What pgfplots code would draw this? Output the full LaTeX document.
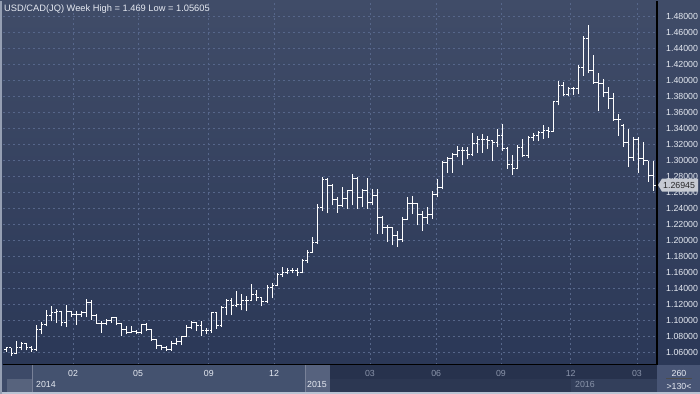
\documentclass[border=0pt]{standalone}
\usepackage{fontspec}
\setmainfont{Liberation Sans}
\usepackage{pgfplots}
\pgfplotsset{compat=1.18}
\usepackage{pgfplotstable}
\definecolor{bgtop}{HTML}{404C68}
\definecolor{bgbot}{HTML}{2B3857}
\definecolor{gridc}{HTML}{56668A}
\definecolor{labc}{HTML}{E6EAF2}
\definecolor{greyc}{HTML}{8A94AA}
\definecolor{stripA}{HTML}{3D4A68}
\definecolor{stripB}{HTML}{44526F}
\definecolor{stripC}{HTML}{56627E}
\definecolor{stripD}{HTML}{27324D}
\definecolor{stripE}{HTML}{2C3752}
\definecolor{stripF}{HTML}{333F5B}
\definecolor{boxc}{HTML}{485575}
\definecolor{edgec}{HTML}{B9C3D3}
\definecolor{pricec}{HTML}{C6CAD2}

\pgfplotstableread{
x o h l c
0 1.064 1.067 1.061 1.066
1 1.066 1.066 1.056 1.059
2 1.059 1.074 1.058 1.066
3 1.066 1.073 1.063 1.071
4 1.071 1.072 1.063 1.066
5 1.066 1.068 1.061 1.064
6 1.064 1.095 1.062 1.089
7 1.089 1.098 1.083 1.095
8 1.095 1.113 1.093 1.107
9 1.107 1.118 1.099 1.110
10 1.110 1.114 1.097 1.112
11 1.112 1.112 1.093 1.098
12 1.098 1.120 1.092 1.111
13 1.111 1.112 1.105 1.108
14 1.108 1.112 1.095 1.108
15 1.108 1.112 1.105 1.110
16 1.110 1.127 1.104 1.123
17 1.123 1.126 1.101 1.107
18 1.107 1.108 1.096 1.097
19 1.097 1.100 1.085 1.097
20 1.097 1.102 1.094 1.100
21 1.100 1.105 1.097 1.104
22 1.104 1.105 1.094 1.096
23 1.096 1.097 1.081 1.089
24 1.089 1.093 1.083 1.085
25 1.085 1.093 1.084 1.086
26 1.086 1.088 1.083 1.085
27 1.085 1.096 1.083 1.095
28 1.095 1.097 1.087 1.089
29 1.089 1.090 1.075 1.076
30 1.076 1.076 1.065 1.069
31 1.069 1.070 1.063 1.066
32 1.066 1.068 1.062 1.064
33 1.064 1.074 1.062 1.072
34 1.072 1.078 1.070 1.074
35 1.074 1.081 1.070 1.080
36 1.080 1.094 1.079 1.092
37 1.092 1.099 1.089 1.098
38 1.098 1.098 1.087 1.094
39 1.094 1.100 1.081 1.0875
40 1.0875 1.091 1.083 1.0875
41 1.0875 1.111 1.085 1.110
42 1.110 1.111 1.090 1.094
43 1.094 1.118 1.092 1.116
44 1.116 1.127 1.107 1.125
45 1.125 1.128 1.107 1.119
46 1.119 1.137 1.117 1.120
47 1.120 1.133 1.113 1.125
48 1.125 1.131 1.112 1.125
49 1.125 1.146 1.124 1.1325
50 1.1325 1.138 1.124 1.129
51 1.129 1.130 1.118 1.124
52 1.124 1.145 1.122 1.1417
53 1.1417 1.147 1.128 1.1437
54 1.1437 1.159 1.143 1.158
55 1.158 1.167 1.155 1.160
56 1.160 1.166 1.158 1.1625
57 1.1625 1.166 1.159 1.1625
58 1.1625 1.166 1.156 1.160
59 1.160 1.177 1.159 1.175
60 1.175 1.188 1.172 1.1855
61 1.1855 1.205 1.185 1.198
62 1.198 1.246 1.196 1.241
63 1.241 1.280 1.237 1.277
64 1.277 1.278 1.234 1.269
65 1.269 1.271 1.244 1.252
66 1.252 1.254 1.235 1.244
67 1.244 1.267 1.242 1.253
68 1.253 1.2625 1.240 1.2625
69 1.2625 1.283 1.244 1.278
70 1.278 1.279 1.240 1.254
71 1.254 1.265 1.242 1.2625
72 1.2625 1.278 1.240 1.248
73 1.248 1.265 1.244 1.256
74 1.256 1.265 1.208 1.229
75 1.229 1.231 1.208 1.217
76 1.217 1.219 1.198 1.216
77 1.216 1.217 1.194 1.206
78 1.206 1.212 1.192 1.202
79 1.202 1.229 1.198 1.227
80 1.227 1.254 1.227 1.246
81 1.246 1.256 1.233 1.246
82 1.246 1.246 1.219 1.233
83 1.233 1.237 1.212 1.229
84 1.229 1.242 1.221 1.233
85 1.233 1.2625 1.227 1.2575
86 1.2575 1.277 1.254 1.267
87 1.267 1.300 1.264 1.298
88 1.298 1.304 1.285 1.303
89 1.303 1.310 1.285 1.308
90 1.308 1.318 1.304 1.313
91 1.313 1.317 1.294 1.3125
92 1.3125 1.317 1.302 1.308
93 1.308 1.334 1.306 1.321
94 1.321 1.331 1.310 1.326
95 1.326 1.333 1.310 1.327
96 1.327 1.331 1.315 1.325
97 1.325 1.325 1.300 1.323
98 1.323 1.3396 1.317 1.332
99 1.332 1.346 1.3125 1.3146
100 1.3146 1.3167 1.2896 1.2946
101 1.2946 1.307 1.282 1.290
102 1.290 1.319 1.289 1.3167
103 1.3167 1.327 1.304 1.306
104 1.306 1.331 1.303 1.329
105 1.329 1.3346 1.325 1.332
106 1.332 1.3375 1.324 1.335
107 1.335 1.344 1.327 1.3375
108 1.3375 1.342 1.328 1.336
109 1.336 1.375 1.3355 1.374
110 1.374 1.400 1.369 1.394
111 1.394 1.398 1.381 1.383
112 1.383 1.392 1.381 1.390
113 1.390 1.392 1.382 1.390
114 1.390 1.419 1.383 1.417
115 1.417 1.456 1.406 1.453
116 1.453 1.469 1.410 1.4125
117 1.4125 1.432 1.396 1.398
118 1.398 1.410 1.362 1.396
119 1.396 1.402 1.379 1.385
120 1.385 1.392 1.365 1.378
121 1.378 1.385 1.350 1.351
122 1.351 1.358 1.331 1.352
123 1.344 1.346 1.317 1.323
124 1.323 1.340 1.292 1.304
125 1.304 1.330 1.300 1.327
126 1.327 1.329 1.285 1.303
127 1.303 1.323 1.294 1.300
128 1.300 1.300 1.273 1.282
129 1.282 1.300 1.2625 1.26945
}\ohlc

\begin{document}
\begin{tikzpicture}
% background
\shade[top color=bgtop,bottom color=bgbot] (0pt,29pt) rectangle (700pt,393pt);
% bottom time strip
\fill[stripA] (0pt,0pt) rectangle (32pt,29pt);
\fill[stripB!90!white] (7pt,2pt) rectangle (32pt,15pt);
\fill[stripB] (32pt,0pt) rectangle (305pt,29pt);
\fill[stripC] (305pt,0pt) rectangle (330pt,29pt);
\fill[stripD] (330pt,0pt) rectangle (657pt,29pt);
\fill[stripE] (330pt,2pt) rectangle (571pt,15pt);
\fill[stripF] (571pt,2pt) rectangle (657pt,15pt);
\draw[stripC!80!white,line width=0.8pt] (32pt,2pt) -- (32pt,29pt);
\draw[stripC!80!white,line width=0.8pt] (305pt,2pt) -- (305pt,29pt);
\fill[boxc] (657pt,0pt) rectangle (700pt,29pt);
\fill[edgec] (0pt,0pt) rectangle (700pt,2pt);
\fill[edgec!70!bgtop] (0pt,0pt) rectangle (2pt,393pt);
% year labels
\node[anchor=base west,inner sep=0pt,text=labc,font=\fontsize{8.8}{10}\selectfont] at (36pt,6.5pt) {2014};
\node[anchor=base west,inner sep=0pt,text=labc,font=\fontsize{8.8}{10}\selectfont] at (307pt,6.5pt) {2015};
\node[anchor=base west,inner sep=0pt,text=greyc,font=\fontsize{8.8}{10}\selectfont] at (575pt,6.5pt) {2016};
% bar count box
\node[anchor=center,inner sep=0pt,text=labc,font=\fontsize{8.8}{10}\selectfont] at (679pt,20pt) {260};
\draw[black!70,line width=0.6pt] (666pt,15.5pt) -- (692pt,15.5pt);
\node[anchor=center,inner sep=0pt,text=labc,font=\fontsize{8.8}{10}\selectfont] at (679pt,7.5pt) {>130<};

\begin{axis}[
  at={(3pt,29pt)}, anchor=south west,
  width=654pt, height=364pt, scale only axis,
  xmin=-0.6, xmax=129.7, ymin=1.045, ymax=1.50,
  clip=false,
  axis x line*=bottom, axis y line*=right,
  axis line style={black, line width=1.3pt},
  major tick length=0pt,
  ytick={1.06,1.08,1.10,1.12,1.14,1.16,1.18,1.20,1.22,1.24,1.26,1.28,1.30,1.32,1.34,1.36,1.38,1.40,1.42,1.44,1.46,1.48},
  yticklabel={\pgfmathprintnumber[fixed,fixed zerofill,precision=5,assume math mode=true]{\tick}},
  yticklabel style={anchor=west, inner sep=0pt, xshift=9pt, text=labc, font=\fontsize{8.8}{10}\selectfont},
  xtick={13.35,26.3,40.4,53.4,72.5,85.7,98.6,112.5,125.7},
  xticklabels={02,05,09,12,\textcolor{greyc}{03},\textcolor{greyc}{06},\textcolor{greyc}{09},\textcolor{greyc}{12},\textcolor{greyc}{03}},
  xticklabel style={anchor=center, inner sep=0pt, yshift=-9pt, text=labc, font=\fontsize{8.8}{10}\selectfont},
  grid=major,
  major grid style={gridc, line width=0.7pt, dash pattern=on 2pt off 3pt},
]
\addplot[white, line width=1pt, no markers, quiver={u=0, v=\thisrow{h}-\thisrow{l}}] table[x=x, y=l] {\ohlc};
\addplot[white, line width=1pt, no markers, quiver={u=-0.45, v=0}] table[x=x, y=o] {\ohlc};
\addplot[white, line width=1pt, no markers, quiver={u=0.45, v=0}] table[x=x, y=c] {\ohlc};
% last price marker
\fill[pricec] (axis cs:129.7,1.26945) ++(1pt,0pt) -- ++(4pt,6.5pt) -- ++(36pt,0pt) -- ++(0pt,-13pt) -- ++(-36pt,0pt) -- cycle;
\node[anchor=west, inner sep=0pt, text=black!85, font=\fontsize{8.8}{10}\selectfont] at (axis cs:129.7,1.26945) [xshift=6pt] {1.26945};
\end{axis}
% title
\node[anchor=base west, inner sep=0pt, text=labc, font=\fontsize{9.3}{11}\selectfont] at (4pt,382pt) {USD/CAD(JQ) Week High = 1.469 Low = 1.05605};
\end{tikzpicture}
\end{document}
